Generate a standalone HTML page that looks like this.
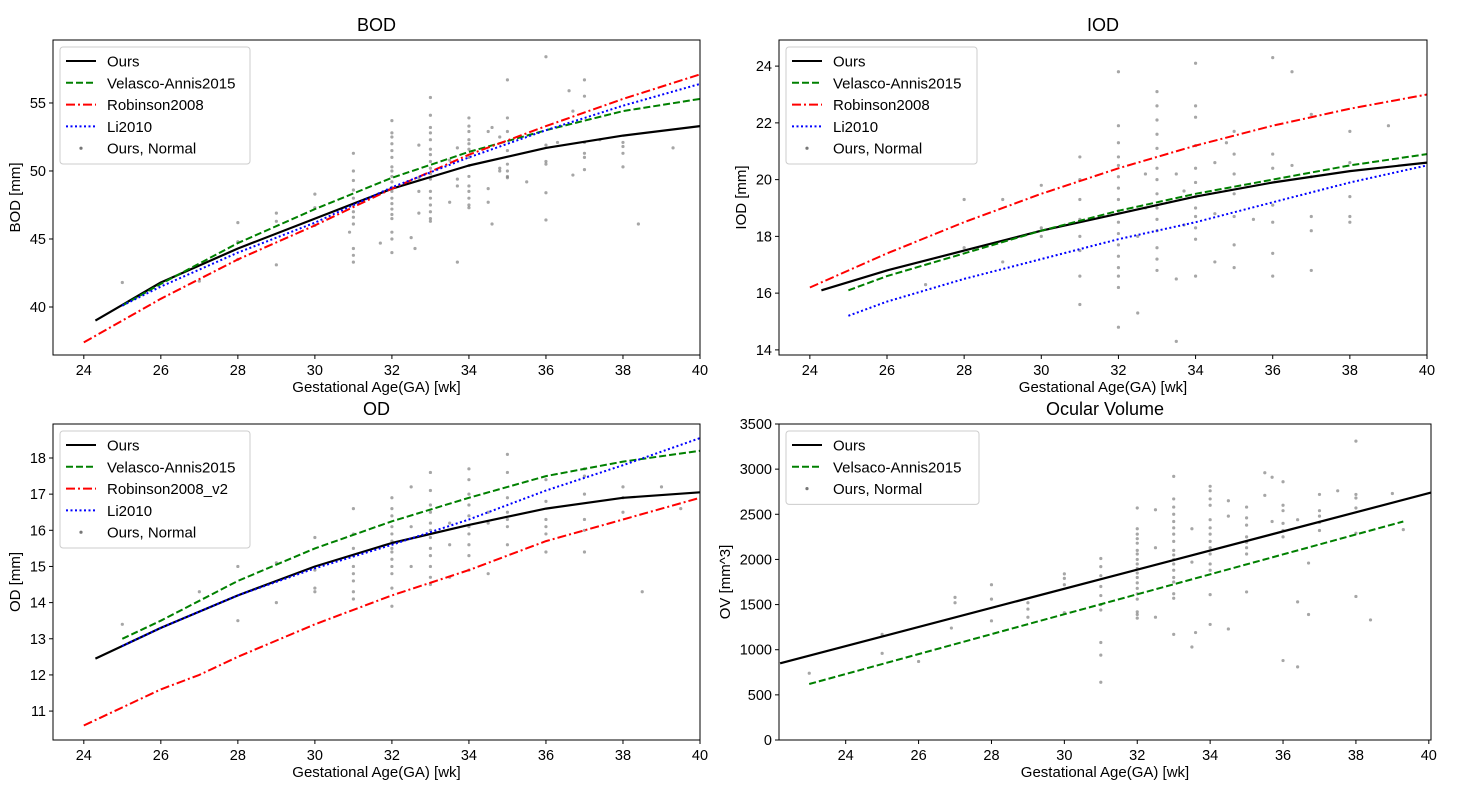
<!DOCTYPE html>
<html><head><meta charset="utf-8">
<style>
html,body{margin:0;padding:0;background:#fff;}
svg{display:block;font-family:"Liberation Sans","DejaVu Sans",sans-serif;}
</style></head>
<body>
<svg id="fig" width="1465" height="803" viewBox="0 0 1465 803" xmlns="http://www.w3.org/2000/svg"></svg>
<script>
// ---------- data ----------
const bodOursX=[24.3,26,28,30,32,34,36,38,40];
const bodOursY=[39.0,41.8,44.3,46.5,48.7,50.4,51.7,52.6,53.3];
const bodVelX=[25,26,28,30,32,34,36,38,40];
const bodVelY=[40.1,41.7,44.7,47.2,49.5,51.4,53.0,54.4,55.3];
const bodRobX=[24,26,28,30,32,34,36,38,40];
const bodRobY=[37.4,40.6,43.5,46.0,48.7,51.2,53.3,55.3,57.1];
const bodLiX=[25,26,28,30,32,34,36,38,40];
const bodLiY=[40.1,41.5,44.0,46.2,48.8,51.0,53.0,54.8,56.4];
const bodPts=[[25,41.8],[27,41.9],[28,46.2],[28,44.8],[28,43.5],[29,43.1],[29,46.9],[29,46.3],[30,48.3],[30,46.0],[30,47.3],
[31,51.3],[31,50.0],[31,49.3],[31,48.6],[31,48.0],[31,47.5],[31,47.0],[31,46.6],[31,46.1],[31,44.3],[31,43.8],[31,43.3],[30.9,45.5],[31.7,44.7],
[32,53.7],[32,52.8],[32,52.5],[32,52.0],[32,51.5],[32,51.0],[32,50.3],[32,50.0],[32,49.6],[32,49.2],[32,48.8],[32,48.5],[32,48.0],[32,47.6],[32,47.2],[32,46.8],[32,46.5],[32,45.5],[32,45.0],[32,44.0],
[32.5,45.1],[32.6,44.3],[32.7,51.9],[32.7,49.5],[32.7,48.5],[32.7,46.9],
[33,55.4],[33,54.1],[33,53.2],[33,52.8],[33,52.3],[33,51.6],[33,51.2],[33,50.7],[33,50.2],[33,49.8],[33,49.4],[33,48.5],[33,48.0],[33,47.5],[33,47.0],[33,46.5],[33,46.3],
[33.5,47.7],[33.5,50.8],[33.7,51.7],[33.7,49.4],[33.7,48.9],[33.7,43.3],
[34,53.9],[34,53.3],[34,52.9],[34,52.3],[34,52.0],[34,51.6],[34,51.0],[34,50.4],[34,49.6],[34,48.9],[34,48.5],[34,48.0],[34,47.5],[34,47.3],
[34.5,52.9],[34.5,48.7],[34.5,47.7],[34.6,46.1],[34.6,53.2],[34.8,52.5],[34.8,50.2],[34.8,50.0],
[35,56.7],[35,53.9],[35,52.9],[35,51.5],[35,50.5],[35,50.0],[35,49.6],[35,49.5],[35.5,49.2],
[36,58.4],[36,51.9],[36,50.7],[36,50.5],[36,48.4],[36,46.4],[36.3,52.1],[36.6,55.9],[36.7,54.4],[36.7,49.7],
[37,56.7],[37,55.5],[37,52.1],[37,51.3],[37,51.0],[37,50.1],[37.4,52.3],[38,52.1],[38,51.8],[38,51.3],[38,50.3],[38.4,46.1],[39.3,51.7]];

const iodOursX=[24.3,26,28,30,32,34,36,38,40];
const iodOursY=[16.1,16.8,17.5,18.2,18.8,19.4,19.9,20.3,20.6];
const iodVelX=[25,26,28,30,32,34,36,38,40];
const iodVelY=[16.1,16.6,17.4,18.2,18.9,19.5,20.0,20.5,20.9];
const iodRobX=[24,26,28,30,32,34,36,38,40];
const iodRobY=[16.2,17.4,18.5,19.5,20.4,21.2,21.9,22.5,23.0];
const iodLiX=[25,26,28,30,32,34,36,38,40];
const iodLiY=[15.2,15.7,16.5,17.2,17.9,18.5,19.2,19.9,20.5];
const iodPts=[[27,16.3],[28,19.3],[28,17.6],[29,19.3],[29,17.1],[30,19.8],[30,18.3],[30,18.0],
[31,20.8],[31,20.0],[31,19.3],[31,18.6],[31,18.0],[31,17.5],[31,16.6],[31,15.6],
[32,23.8],[32,21.9],[32,21.3],[32,20.8],[32,20.5],[32,20.1],[32,19.7],[32,19.3],[32,18.9],[32,18.5],[32,18.1],[32,17.7],[32,17.3],[32,16.9],[32,16.6],[32,16.2],[32,14.8],
[32.5,18.0],[32.5,15.3],[32.7,20.2],[32.7,19.0],
[33,23.1],[33,22.6],[33,22.1],[33,21.6],[33,21.1],[33,20.4],[33,20.0],[33,19.5],[33,19.0],[33,18.6],[33,18.2],[33,17.6],[33,17.2],[33,16.8],
[33.5,20.2],[33.5,14.3],[33.5,16.5],[33.7,19.6],[33.7,18.4],
[34,24.1],[34,22.6],[34,22.2],[34,21.2],[34,20.4],[34,19.9],[34,19.4],[34,19.0],[34,18.7],[34,18.3],[34,17.9],[34,16.6],
[34.5,20.6],[34.5,18.8],[34.5,17.1],[34.8,21.3],[35,21.7],[35,20.9],[35,20.2],[35,19.5],[35,18.7],[35,17.7],[35,16.9],[35.5,18.6],
[36,24.3],[36,20.9],[36,20.4],[36,19.1],[36,18.5],[36,17.4],[36,16.6],[36.5,23.8],[36.5,20.5],
[37,22.3],[37,20.1],[37,18.7],[37,18.2],[37,16.8],[38,21.7],[38,20.6],[38,19.4],[38,18.7],[38,18.5],[39,21.9]];

const odOursX=[24.3,26,28,30,32,34,36,38,40];
const odOursY=[12.45,13.3,14.2,15.0,15.65,16.15,16.6,16.9,17.05];
const odVelX=[25,26,28,30,32,34,36,38,40];
const odVelY=[13.0,13.5,14.6,15.5,16.25,16.9,17.5,17.9,18.2];
const odRobX=[24,26,27,28,30,32,34,36,38,40];
const odRobY=[10.6,11.6,12.0,12.5,13.4,14.2,14.9,15.7,16.3,16.9];
const odLiX=[25,26,28,30,32,34,36,38,40];
const odLiY=[12.8,13.3,14.2,14.95,15.6,16.3,17.1,17.8,18.55];
const odPts=[[25,13.4],[27,14.3],[28,15.0],[28,13.5],[29,15.1],[29,14.0],[30,15.8],[30,14.9],[30,14.4],[30,14.3],
[31,16.6],[31,15.9],[31,15.5],[31,15.3],[31,15.0],[31,14.8],[31,14.6],[31,14.3],[31,14.1],
[32,16.9],[32,16.6],[32,16.4],[32,16.1],[32,15.9],[32,15.7],[32,15.5],[32,15.4],[32,15.2],[32,15.0],[32,14.8],[32,14.4],[32,13.9],
[32.5,17.2],[32.5,16.1],[32.5,15.0],
[33,17.6],[33,17.1],[33,16.7],[33,16.5],[33,16.2],[33,16.0],[33,15.8],[33,15.5],[33,15.3],[33,15.0],[33,14.7],[33,14.5],
[33.5,16.2],[33.5,14.7],[33.5,15.6],
[34,17.7],[34,17.4],[34,17.0],[34,16.7],[34,16.4],[34,16.1],[34,15.9],[34,15.6],[34,15.3],[34,14.9],
[34.5,16.5],[34.5,14.8],[34.5,16.2],[35,18.1],[35,17.6],[35,16.9],[35,16.5],[35,16.3],[35,16.1],[35,15.6],
[36,17.4],[36,16.8],[36,16.3],[36,16.1],[36,15.9],[36,15.4],[37,17.7],[37,17.5],[37,17.0],[37,16.3],[37,16.0],[37,15.4],
[38,17.2],[38,16.9],[38,16.5],[38.5,14.3],[39,17.2],[39.5,16.6]];

const ovOursX=[22.2,40.06];
const ovOursY=[850,2740];
const ovVelX=[23,39.3];
const ovVelY=[620,2420];
const ovPts=[[23,740],[25,1170],[25,960],[26,870],[26.9,1240],[27,1580],[27,1520],[28,1720],[28,1560],[28,1320],[29,1520],[29,1450],[29,1360],
[30,1840],[30,1790],[30,1720],[30,1410],[31,2010],[31,1920],[31,1820],[31,1700],[31,1600],[31,1500],[31,1440],[31,1080],[31,940],[31,640],
[32,2570],[32,2340],[32,2280],[32,2230],[32,2180],[32,2100],[32,2060],[32,2000],[32,1950],[32,1900],[32,1850],[32,1800],[32,1740],[32,1680],[32,1620],[32,1560],[32,1420],[32,1390],[32,1350],
[32.5,2550],[32.5,2130],[32.5,1360],
[33,2920],[33,2670],[33,2580],[33,2500],[33,2420],[33,2350],[33,2280],[33,2200],[33,2100],[33,2050],[33,2000],[33,1950],[33,1880],[33,1800],[33,1750],[33,1620],[33,1570],[33,1170],
[33.5,2340],[33.5,1030],[33.6,1190],[33.5,1970],
[34,2810],[34,2760],[34,2670],[34,2600],[34,2440],[34,2350],[34,2280],[34,2200],[34,2130],[34,2060],[34,1950],[34,1880],[34,1610],[34,1280],
[34.5,2650],[34.5,2480],[34.5,1230],[35,2580],[35,2460],[35,2380],[35,2250],[35,2190],[35,2130],[35,2060],[35,1640],
[35.5,2960],[35.5,2710],[35.7,2910],[35.7,2420],[36,2860],[36,2600],[36,2540],[36,2400],[36,2320],[36,2250],[36,880],
[36.4,2440],[36.4,1530],[36.4,810],[36.7,1960],[36.7,1390],[37,2720],[37,2540],[37,2480],[37,2410],[37,2320],[37.5,2760],
[38,3310],[38,2720],[38,2680],[38,2570],[38,2290],[38,1590],[38.4,1330],[39,2730],[39.3,2330]];

const xTicks=[24,26,28,30,32,34,36,38,40];
const bodYTicks=[40,45,50,55];
const iodYTicks=[14,16,18,20,22,24];
const odYTicks=[11,12,13,14,15,16,17,18];
const ovYTicks=[0,500,1000,1500,2000,2500,3000,3500];

// ---------- drawing ----------
const NS="http://www.w3.org/2000/svg";
const svg=document.getElementById('fig');
function mk(tag,attrs,parent){const e=document.createElementNS(NS,tag);for(const k in attrs)e.setAttribute(k,attrs[k]);(parent||svg).appendChild(e);return e;}

const STY={
 ours:{stroke:'#000',dash:''},
 vel:{stroke:'#008000',dash:'7,3'},
 rob:{stroke:'#ff0000',dash:'9,3,2,3'},
 li:{stroke:'#0000ff',dash:'2,2.5'}
};

function panel(p){
 const g=mk('g',{});
 
 
 const sx=v=>p.x0+(v-p.xmin)/(p.xmax-p.xmin)*(p.x1-p.x0);
 const sy=v=>p.y1-(v-p.ymin)/(p.ymax-p.ymin)*(p.y1-p.y0);
 const t=mk('text',{x:(p.x0+p.x1)/2,y:p.y0-9,'text-anchor':'middle','font-size':18,fill:'#000'},g);
 t.textContent=p.title;
 
 
 // scatter
 const sg=mk('g',{},g);
 
 
 for(const pt of p.pts){
  const c=mk('circle',{cx:sx(pt[0]),cy:sy(pt[1]),r:1.6,fill:'#777','fill-opacity':0.65},sg);
  
  
 }
 // lines
 for(const s of p.series){
  const d=s.xs.map((x,i)=>(i?'L':'M')+sx(x).toFixed(1)+','+sy(s.ys[i]).toFixed(1)).join(' ');
  const st=STY[s.style];
  const l=mk('path',{d:d,fill:'none',stroke:st.stroke,'stroke-width':s.style==='ours'?2.2:2,'stroke-dasharray':st.dash,'stroke-linejoin':'round'},g);
  
  
 }
 // frame
 const fr=mk('rect',{x:p.x0,y:p.y0,width:p.x1-p.x0,height:p.y1-p.y0,fill:'none',stroke:'#000','stroke-width':1},g);
 
 
 // x ticks
 for(const v of xTicks){
  const X=sx(v);
  mk('line',{x1:X,x2:X,y1:p.y1,y2:p.y1+4,stroke:'#000'},g);
  const tl=mk('text',{x:X,y:p.y1+20,'text-anchor':'middle','font-size':14.5},g);
  tl.textContent=v;
  
  
 }
 for(const v of p.yTicks){
  const Y=sy(v);
  mk('line',{x1:p.x0-4,x2:p.x0,y1:Y,y2:Y,stroke:'#000'},g);
  const tl=mk('text',{x:p.x0-7,y:Y+5,'text-anchor':'end','font-size':14.5},g);
  tl.textContent=v;
  
  
 }
 const xl=mk('text',{x:(p.x0+p.x1)/2,y:p.y1+37,'text-anchor':'middle','font-size':15},g);
 xl.textContent='Gestational Age(GA) [wk]';
 
 
 const yc=(p.y0+p.y1)/2;
 const yl=mk('text',{x:p.ylx,y:yc,'text-anchor':'middle','font-size':15,transform:'rotate(-90 '+p.ylx+' '+yc+')'},g);
 yl.textContent=p.ylabel;
 
 
 // legend
 const lg=mk('g',{},g);
 
 
 const n=p.legend.length;
 mk('rect',{x:p.x0+7,y:p.y0+7,width:p.legW,height:n*21.8+8,rx:3,fill:'#fff','fill-opacity':0.8,stroke:'#ccc'},lg);
 p.legend.forEach((e,i)=>{
  const Y=p.y0+21+i*21.8;
  if(e.style==='pt'){
   mk('circle',{cx:p.x0+28,cy:Y,r:1.6,fill:'#777'},lg);
  } else {
   const st=STY[e.style];
   mk('line',{x1:p.x0+13,x2:p.x0+43,y1:Y,y2:Y,stroke:st.stroke,'stroke-width':2,'stroke-dasharray':st.dash},lg);
  }
  const tx=mk('text',{x:p.x0+54,y:Y+5.5,'font-size':15},lg);
  tx.textContent=e.label;
  
  
 });
}

const L4=[{style:'ours',label:'Ours'},{style:'vel',label:'Velasco-Annis2015'},{style:'rob',label:'Robinson2008'},{style:'li',label:'Li2010'},{style:'pt',label:'Ours, Normal'}];
panel({key:'bod',title:'BOD',x0:53,x1:700,y0:40,y1:355,xmin:23.2,xmax:40,ymin:36.47,ymax:59.63,yTicks:bodYTicks,ylabel:'BOD [mm]',ylx:20,pts:bodPts,legW:190,legend:L4,
 series:[{xs:bodOursX,ys:bodOursY,style:'ours'},{xs:bodVelX,ys:bodVelY,style:'vel'},{xs:bodRobX,ys:bodRobY,style:'rob'},{xs:bodLiX,ys:bodLiY,style:'li'}]});
panel({key:'iod',title:'IOD',x0:779,x1:1427,y0:40,y1:355,xmin:23.2,xmax:40,ymin:13.82,ymax:24.92,yTicks:iodYTicks,ylabel:'IOD [mm]',ylx:746,pts:iodPts,legW:191,legend:L4,
 series:[{xs:iodOursX,ys:iodOursY,style:'ours'},{xs:iodVelX,ys:iodVelY,style:'vel'},{xs:iodRobX,ys:iodRobY,style:'rob'},{xs:iodLiX,ys:iodLiY,style:'li'}]});
panel({key:'od',title:'OD',x0:53,x1:700,y0:424,y1:740,xmin:23.2,xmax:40,ymin:10.2,ymax:18.94,yTicks:odYTicks,ylabel:'OD [mm]',ylx:20,pts:odPts,legW:190,
 legend:[{style:'ours',label:'Ours'},{style:'vel',label:'Velasco-Annis2015'},{style:'rob',label:'Robinson2008_v2'},{style:'li',label:'Li2010'},{style:'pt',label:'Ours, Normal'}],
 series:[{xs:odOursX,ys:odOursY,style:'ours'},{xs:odVelX,ys:odVelY,style:'vel'},{xs:odRobX,ys:odRobY,style:'rob'},{xs:odLiX,ys:odLiY,style:'li'}]});
panel({key:'ov',title:'Ocular Volume',x0:779,x1:1431,y0:424,y1:740,xmin:22.17,xmax:40.06,ymin:0,ymax:3500,yTicks:ovYTicks,ylabel:'OV [mm^3]',ylx:730,pts:ovPts,legW:193,
 legend:[{style:'ours',label:'Ours'},{style:'vel',label:'Velsaco-Annis2015'},{style:'pt',label:'Ours, Normal'}],
 series:[{xs:ovOursX,ys:ovOursY,style:'ours'},{xs:ovVelX,ys:ovVelY,style:'vel'}]});
</script>
</body></html>
